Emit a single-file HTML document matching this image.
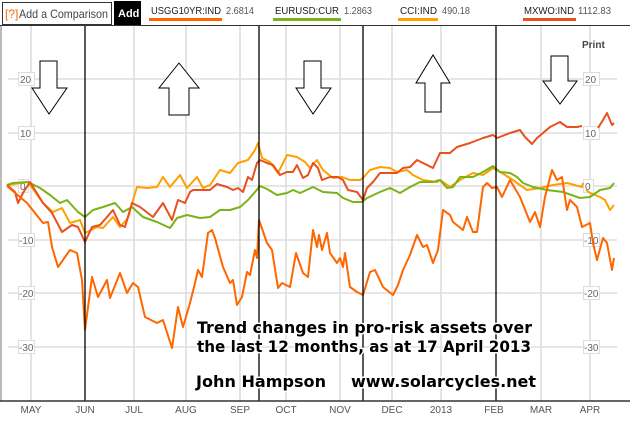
<!DOCTYPE html>
<html><head><meta charset="utf-8"><style>
body{margin:0;background:#fff;width:630px;height:417px;overflow:hidden;font-family:"Liberation Sans",Arial,sans-serif}
</style></head><body>
<svg width="630" height="417" xmlns="http://www.w3.org/2000/svg" font-family="Liberation Sans, Arial, sans-serif">
<rect width="630" height="417" fill="#fff"/>
<!-- header -->
<rect x="2.5" y="2.5" width="109" height="22" fill="#fff" stroke="#333"/>
<text x="5" y="18" font-size="12" fill="#f60">[?]</text>
<text x="19" y="18" font-size="12" fill="#444" textLength="89" lengthAdjust="spacingAndGlyphs">Add a Comparison</text>
<rect x="114" y="1" width="27" height="25" fill="#000"/>
<text x="118" y="17" font-size="11" font-weight="bold" fill="#fff">Add</text>
<g font-size="10.5">
<text x="151" y="14" fill="#222" textLength="70" lengthAdjust="spacingAndGlyphs">USGG10YR:IND</text><text x="226" y="14" fill="#555" textLength="28" lengthAdjust="spacingAndGlyphs">2.6814</text>
<rect x="149" y="18" width="73" height="3" fill="#ff6600"/>
<text x="275" y="14" fill="#222" textLength="64" lengthAdjust="spacingAndGlyphs">EURUSD:CUR</text><text x="344" y="14" fill="#555" textLength="28" lengthAdjust="spacingAndGlyphs">1.2863</text>
<rect x="273" y="18" width="68" height="3" fill="#ffa000" style="fill:#7ab317"/>
<text x="400" y="14" fill="#222" textLength="37" lengthAdjust="spacingAndGlyphs">CCI:IND</text><text x="442" y="14" fill="#555" textLength="28" lengthAdjust="spacingAndGlyphs">490.18</text>
<rect x="398" y="18" width="40" height="3" fill="#ffa000"/>
<text x="524" y="14" fill="#222" textLength="50" lengthAdjust="spacingAndGlyphs">MXWO:IND</text><text x="578" y="14" fill="#555" textLength="33" lengthAdjust="spacingAndGlyphs">1112.83</text>
<rect x="523" y="18" width="53" height="3" fill="#e8501e"/>
</g>
<line x1="0" y1="25.5" x2="630" y2="25.5" stroke="#333"/>
<line x1="1" y1="26" x2="1" y2="401" stroke="#bbb" stroke-width="2"/>
<!-- grid -->
<g stroke="#e4e4e4" stroke-width="2">
<line x1="31" y1="26" x2="31" y2="401"/><line x1="134" y1="26" x2="134" y2="401"/><line x1="186" y1="26" x2="186" y2="401"/><line x1="240" y1="26" x2="240" y2="401"/><line x1="286" y1="26" x2="286" y2="401"/><line x1="340" y1="26" x2="340" y2="401"/><line x1="392" y1="26" x2="392" y2="401"/><line x1="441" y1="26" x2="441" y2="401"/><line x1="541" y1="26" x2="541" y2="401"/><line x1="590" y1="26" x2="590" y2="401"/>
</g>
<g stroke="#ddd" stroke-width="1.5">
<line x1="8" y1="79" x2="617" y2="79"/><line x1="8" y1="133" x2="617" y2="133"/><line x1="8" y1="186" x2="617" y2="186"/><line x1="8" y1="240" x2="617" y2="240"/><line x1="8" y1="293" x2="617" y2="293"/><line x1="8" y1="347" x2="617" y2="347"/>
</g>
<!-- y labels -->
<g font-size="10" fill="#666">
<g fill="#fff" stroke="#ddd"><rect x="18.5" y="72.5" width="16" height="13"/><rect x="18.5" y="126.5" width="16" height="13"/><rect x="18.5" y="179.5" width="10" height="13"/><rect x="18.5" y="233.5" width="16" height="13"/><rect x="18.5" y="286.5" width="16" height="13"/><rect x="18.5" y="340.5" width="16" height="13"/>
<rect x="583.5" y="72.5" width="16" height="13"/><rect x="583.5" y="126.5" width="16" height="13"/><rect x="583.5" y="179.5" width="10" height="13"/><rect x="583.5" y="233.5" width="16" height="13"/><rect x="583.5" y="286.5" width="16" height="13"/><rect x="583.5" y="340.5" width="16" height="13"/></g>
<text x="20" y="83">20</text><text x="20" y="137">10</text><text x="20" y="190">0</text><text x="19" y="244">-10</text><text x="19" y="297">-20</text><text x="19" y="351">-30</text>
<text x="585" y="83">20</text><text x="585" y="137">10</text><text x="585" y="190">0</text><text x="584" y="244">-10</text><text x="584" y="297">-20</text><text x="584" y="351">-30</text>
</g>
<text x="582" y="48" font-size="10" font-weight="bold" fill="#444">Print</text>
<!-- series -->
<g fill="none" stroke-width="2" stroke-linejoin="round">
<polyline stroke="#ffa000" points="7,185 28,182 43,203 53,212 62,208 70,223 80,220 85,233 97,227 103,228 113,217 120,227 128,218 133,200 137,187 147,188 157,187 163,177 170,187 180,175 187,188 197,177 203,188 210,185 220,170 230,173 238,163 248,160 255,150 258,143 262,158 270,162 278,173 287,155 297,157 305,162 310,168 317,160 323,170 333,178 342,177 350,180 360,180 363,178 370,170 380,167 390,168 397,172 407,170 413,175 423,180 437,182 440,180 450,187 460,180 473,173 483,175 493,168 500,172 510,178 527,190 540,188 553,185 567,183 582,187 583,183"/>
<polyline stroke="#ffa000" points="586,190 590,193 600,197 605,200 610,210 614,205"/>
<polyline stroke="#7ab317" points="7,185 13,183 28,182 40,188 50,195 60,203 67,200 78,212 85,217 93,210 103,207 115,203 123,212 132,207 143,217 157,222 170,228 177,218 187,215 200,218 210,217 220,210 230,210 240,207 248,200 255,192 260,186 267,189 277,195 287,193 293,190 300,193 313,187 323,192 337,193 343,198 353,202 362,202 367,198 380,192 390,188 400,193 410,187 420,182 433,182 440,180 447,188 453,187 460,177 473,177 483,172 493,166 500,172 510,173 517,177 523,183 533,187 547,190 563,192 580,198 590,197 600,190 610,188 614,183"/>
<polyline stroke="#e8501e" points="7,185 15,192 18,203 23,193 30,182 43,203 52,213 62,232 72,225 78,227 85,242 92,227 100,225 107,217 113,210 120,225 125,227 132,203 140,207 153,217 163,203 172,220 178,200 185,203 190,192 193,190 210,190 217,184 227,187 233,190 238,188 243,192 248,177 252,180 257,163 260,160 267,163 273,165 280,175 287,172 293,172 297,165 303,178 308,175 313,163 318,168 322,180 330,177 338,177 343,180 348,190 357,192 363,200 367,188 373,182 380,173 387,173 397,173 403,168 410,167 417,160 423,163 433,168 440,153 450,153 457,147 470,143 483,138 493,135 497,138 510,133 520,130 525,137 532,144 537,138 543,133 550,127 560,122 567,127 577,127 582,126"/>
<polyline stroke="#e8501e" points="598,128 603,120 607,113 612,125 614,123"/>
<polyline stroke="#ff6600" points="7,186 27,203 43,223 48,222 52,247 58,267 70,250 77,253 82,280 85,330 92,277 98,297 107,280 110,298 120,273 127,293 133,283 138,287 145,317 157,323 163,320 172,348 178,307 183,327 190,303 195,283 198,270 202,277 208,233 212,230 215,238 223,267 230,283 233,280 237,305 242,297 247,272 250,275 255,250 257,258 259,220 267,243 272,250 278,288 282,283 290,287 296,253 303,273 308,277 313,230 317,247 319,235 322,250 327,233 330,253 337,263 340,258 343,267 345,253 350,287 357,292 363,295 370,272 375,270 383,287 393,295 398,285 403,270 410,255 417,235 423,247 427,245 433,263 438,250 443,210 450,215 453,222 463,230 467,217 473,232 477,232 483,187 487,183 492,188 497,187 502,197 510,180 520,197 530,222 535,212 540,227 545,197 552,170 557,180 562,177 567,210 570,200 577,207 582,227 590,223 593,243 597,260 603,238 607,243 612,270 614,258"/>
</g>
<!-- black verticals -->
<g stroke="#000" stroke-width="1.3">
<line x1="85" y1="26" x2="85" y2="401"/><line x1="259" y1="26" x2="259" y2="401"/><line x1="363" y1="26" x2="363" y2="401"/><line x1="496" y1="26" x2="496" y2="401"/>
</g>
<!-- arrows -->
<g fill="#fff" stroke="#000" stroke-width="1">
<polygon points="40,61 57,61 57,88 67,88 49,114 32,88 40,88"/>
<polygon points="179,63 199,88 189,88 189,115 169,115 169,88 159,88"/>
<polygon points="304,61 321,61 321,88 331,88 313,114 296,88 304,88"/>
<polygon points="433,55 450,83 441,83 441,112 425,112 425,83 416,83"/>
<polygon points="551,56 568,56 568,81 577,81 560,104 543,81 551,81"/>
</g>
<!-- overlay text -->
<g font-family="DejaVu Sans, Verdana, sans-serif" font-weight="bold" font-size="16" fill="#000" stroke="#fff" stroke-width="3" paint-order="stroke">
<text x="197" y="333" textLength="335" lengthAdjust="spacingAndGlyphs">Trend changes in pro-risk assets over</text>
<text x="197" y="352" textLength="334" lengthAdjust="spacingAndGlyphs">the last 12 months, as at 17 April 2013</text>
<text x="196" y="387" textLength="130" lengthAdjust="spacingAndGlyphs">John Hampson</text>
<text x="351" y="387" textLength="185" lengthAdjust="spacingAndGlyphs">www.solarcycles.net</text>
</g>
<line x1="0" y1="401" x2="630" y2="401" stroke="#333" stroke-width="1.5"/>
<g font-size="10" fill="#555" text-anchor="middle">
<text x="31" y="413">MAY</text><text x="85" y="413">JUN</text><text x="134" y="413">JUL</text><text x="186" y="413">AUG</text><text x="240" y="413">SEP</text><text x="286" y="413">OCT</text><text x="340" y="413">NOV</text><text x="392" y="413">DEC</text><text x="441" y="413">2013</text><text x="494" y="413">FEB</text><text x="541" y="413">MAR</text><text x="590" y="413">APR</text>
</g>
</svg>
</body></html>
